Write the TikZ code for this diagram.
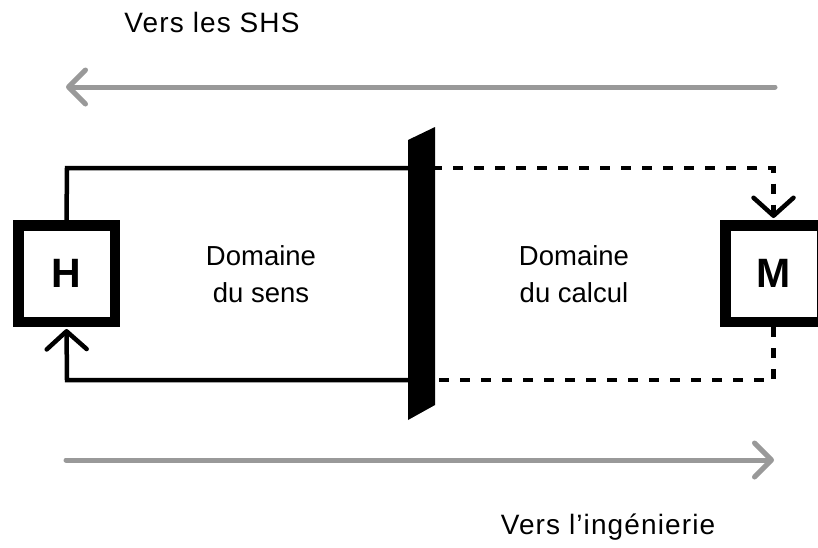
\documentclass[tikz,border=0pt]{standalone}
\usepackage{fontspec}
\setmainfont{Liberation Sans}
\usetikzlibrary{arrows.meta}
\definecolor{arrowgray}{RGB}{153,153,153}
\begin{document}
\begin{tikzpicture}[x=1pt,y=-1pt,
  box/.style={draw=black, line width=10.5pt, minimum size=96.5pt, inner sep=0pt, fill=white, font=\bfseries\fontsize{41}{41}\selectfont},
  lbl/.style={font=\fontsize{27.5}{37}\selectfont, align=center, inner sep=0pt},
  dirlbl/.style={font=\fontsize{28}{37}\selectfont\addfontfeature{LetterSpace=4}, inner sep=0pt},
  flow/.style={line width=4.5pt},
  dashflow/.style={line width=4.5pt, dash pattern=on 10pt off 11pt},
  grayarrow/.style={draw=arrowgray, line width=5pt, line cap=round, -{Straight Barb[length=17pt,width=34pt,round]}},
  barb/.style={-{Straight Barb[length=18pt,width=40pt,round]}}]
\useasboundingbox (0,0) rectangle (818,547);
% gray direction arrows
\coordinate (ta) at (775,87);
\coordinate (tb) at (66,87);
\draw[grayarrow] (ta) -- (tb);
\coordinate (ba) at (66,460);
\coordinate (bb) at (774,460);
\draw[grayarrow] (ba) -- (bb);
\node[dirlbl, anchor=base] (shs) at (212,32) {Vers les SHS};
\node[dirlbl, anchor=base] (ing) at (608,534) {Vers l’ingénierie};
% boxes
\node[box] (H) at (66.5,273.5) {H};
\node[box] (M) at (773.5,273.5) {M};
% corners
\coordinate (htop) at (67,168);
\coordinate (hbot) at (67,380);
\coordinate (btop) at (410,168);
\coordinate (bbot) at (410,380);
\coordinate (dtop) at (432,168);
\coordinate (dbot) at (432,380);
\coordinate (mtop) at (773.5,168);
\coordinate (mbot) at (773.5,380);
% solid loop
\draw[flow] (H.north) -- (htop) -- (btop);
\draw[flow, barb] (bbot) -- (hbot) -- ([yshift=-2pt]H.south);
% dashed loop
\draw[dashflow, barb] (dtop) -- (mtop) -- ([yshift=2pt]M.north);
\draw[dashflow] (M.south) -- (mbot) -- (dbot);
% barrier
\fill[black] (408,140) -- (435,127) -- (435,405) -- (408,420) -- cycle;
% domain labels
\node[lbl, anchor=base] (sens) at (261,302) {Domaine\\du sens};
\node[lbl, anchor=base] (calc) at (574,302) {Domaine\\du calcul};
\end{tikzpicture}
\end{document}
